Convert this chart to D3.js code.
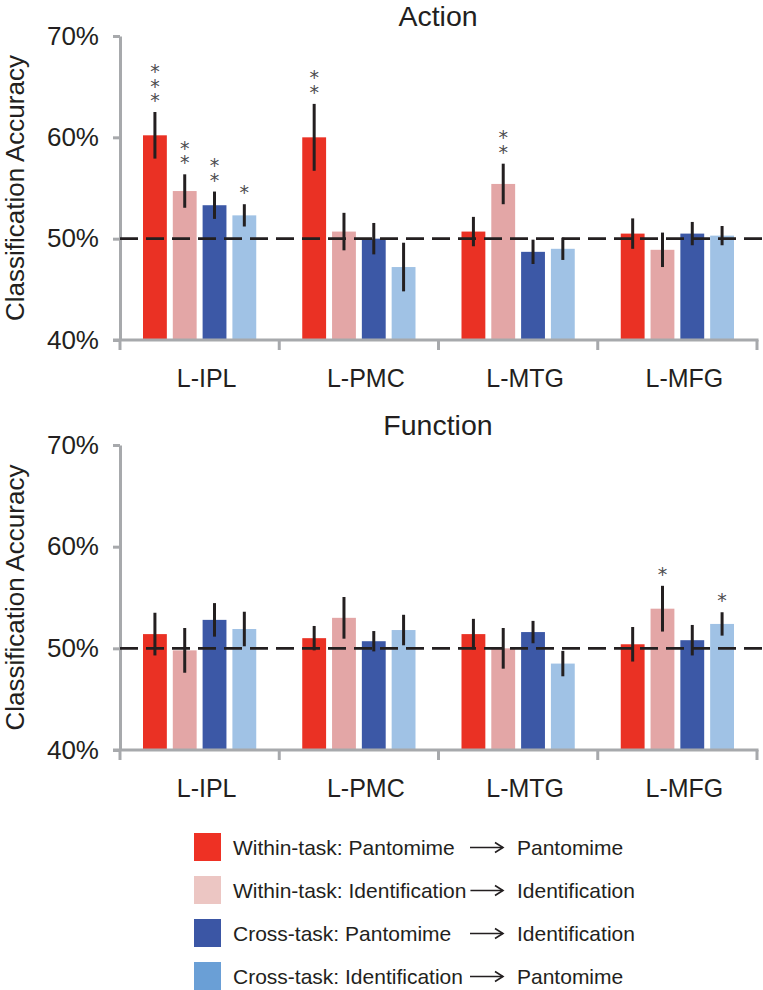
<!DOCTYPE html>
<html>
<head>
<meta charset="utf-8">
<script src="https://cdn.jsdelivr.net/npm/d3@7"></script>
<style>
body{margin:0;background:#fff;}
.fonts{font-family:"Liberation Sans",Arial,sans-serif;fill:#231f20;}
</style>
</head>
<body>
<div id="viz"></div>
<script>
// data
var regions=["L-IPL","L-PMC","L-MTG","L-MFG"];
var series=["PP","II","PI","IP"];
var yTicks=[40,50,60,70];
var chance=50;

var actionMeans=[[60.2,54.7,53.3,52.3],[60.0,50.7,50.0,47.2],[50.7,55.4,48.7,49.0],[50.5,48.9,50.5,50.3]];
var actionErr=[[2.3,1.65,1.35,1.1],[3.3,1.85,1.55,2.4],[1.45,2.0,1.2,1.1],[1.5,1.7,1.15,0.95]];
var actionStars=[[3,2,2,1],[2,0,0,0],[0,2,0,0],[0,0,0,0]];

var functionMeans=[[51.4,49.8,52.8,51.9],[51.0,53.0,50.7,51.8],[51.4,50.0,51.6,48.5],[50.4,53.9,50.8,52.4]];
var functionErr=[[2.1,2.2,1.65,1.7],[1.2,2.05,1.0,1.5],[1.5,2.0,1.1,1.25],[1.7,2.25,1.5,1.15]];
var functionStars=[[0,0,0,0],[0,0,0,0],[0,0,0,0],[0,1,0,1]];

var legendTask=["Within-task:","Within-task:","Cross-task:","Cross-task:"];
var legendFrom=["Pantomime","Identification","Pantomime","Identification"];
var legendTo=["Pantomime","Identification","Identification","Pantomime"];

var barColors=["#ea3124","#e3a6a6","#3c58a6","#a0c2e5"];
var legendColors=["#ee3124","#ecc6c3","#3b56a5","#6a9fd6"];

var width=763, height=990;
var svg=d3.select("#viz").append("svg")
  .attr("width",width)
  .attr("height",height);

var x0=d3.scaleBand().domain(regions).range([120,757]);
var x1=d3.scaleBand().domain(series)
  .range([23,x0.bandwidth()-23])
  .paddingInner(0.2);
var colorScale=d3.scaleOrdinal().domain(series).range(barColors);

function drawPanel(title,means,errs,stars,top,bottom)
{
  var y=d3.scaleLinear().domain([40,70]).range([bottom,top]);
  var g=svg.append("g");

  var rows=[];
  means.forEach(function(m,i){
    m.forEach(function(v,j){
      rows.push({region:regions[i],s:series[j],v:v,e:errs[i][j],n:stars[i][j]});
    });
  });

  g.selectAll("rect.bar")
    .data(rows)
    .enter()
    .append("rect")
    .attr("class","bar")
    .attr("x",function(d){return x0(d.region)+x1(d.s);})
    .attr("y",function(d){return y(d.v);})
    .attr("width",x1.bandwidth())
    .attr("height",function(d){return y(40)-y(d.v);})
    .attr("fill",function(d){return colorScale(d.s);});

  // y axis
  var yAxis=d3.axisLeft(y)
    .tickValues(yTicks)
    .tickSize(7)
    .tickSizeOuter(0)
    .tickPadding(14)
    .tickFormat(function(d){return d+"%";});
  var ya=g.append("g")
    .attr("transform","translate(120,0)")
    .call(yAxis);
  ya.selectAll("path,line").attr("stroke","#a7a9ac").attr("stroke-width",3);
  ya.selectAll("text")
    .attr("class","fonts")
    .style("font-size","26px")
    .attr("fill","#231f20");

  // baseline and category separators
  g.append("line")
    .attr("x1",113).attr("x2",x0.range()[1]+1.5)
    .attr("y1",y(40)).attr("y2",y(40))
    .attr("stroke","#a7a9ac").attr("stroke-width",3);
  var seps=regions.map(function(r){return x0(r);}).concat([x0.range()[1]]);
  g.selectAll("line.sep")
    .data(seps)
    .enter()
    .append("line")
    .attr("class","sep")
    .attr("x1",function(d){return d;}).attr("x2",function(d){return d;})
    .attr("y1",y(40)).attr("y2",y(40)+10)
    .attr("stroke","#a7a9ac").attr("stroke-width",3);

  g.selectAll("text.cat")
    .data(regions)
    .enter()
    .append("text")
    .attr("class","fonts cat")
    .attr("x",function(d){return x0(d)+x0.bandwidth()/2+7;})
    .attr("y",y(40)+47)
    .style("font-size","25px")
    .style("text-anchor","middle")
    .text(function(d){return d;});

  // chance line
  g.append("line")
    .attr("x1",120).attr("x2",width)
    .attr("y1",y(chance)).attr("y2",y(chance))
    .attr("stroke","#231f20")
    .attr("stroke-width",2.6)
    .attr("stroke-dasharray","18,8");

  // error bars
  g.selectAll("line.err")
    .data(rows)
    .enter()
    .append("line")
    .attr("class","err")
    .attr("x1",function(d){return x0(d.region)+x1(d.s)+x1.bandwidth()/2;})
    .attr("x2",function(d){return x0(d.region)+x1(d.s)+x1.bandwidth()/2;})
    .attr("y1",function(d){return y(d.v+d.e);})
    .attr("y2",function(d){return y(d.v-d.e);})
    .attr("stroke","#231f20")
    .attr("stroke-width",3);

  // significance stars, stacked in one text per bar
  var starG=g.selectAll("text.star")
    .data(rows.filter(function(d){return d.n>0;}))
    .enter()
    .append("text")
    .attr("class","star")
    .style("font-family","'DejaVu Sans',sans-serif")
    .style("font-size","19px")
    .style("text-anchor","middle")
    .attr("fill","#4d4d4f");
  starG.each(function(d){
    var cx=x0(d.region)+x1(d.s)+x1.bandwidth()/2;
    var base=y(d.v+d.e)-12+7;
    for(var k=d.n-1;k>=0;k--)
    {
      d3.select(this).append("tspan")
        .attr("x",cx)
        .attr("y",base-k*14.5)
        .text("*");
    }
  });

  svg.append("text")
    .attr("x",438)
    .attr("y",top-10)
    .text(title)
    .attr("class","fonts")
    .style("font-size","28.5px")
    .style("text-anchor","middle");

  svg.append("text")
    .attr("transform","translate(24,"+((top+bottom)/2)+") rotate(-90)")
    .text("Classification Accuracy")
    .attr("class","fonts")
    .style("font-size","26px")
    .style("text-anchor","middle");
}

drawPanel("Action",actionMeans,actionErr,actionStars,36,340);
drawPanel("Function",functionMeans,functionErr,functionStars,445,750);

// legend
var legend=svg.append("g");
series.forEach(function(s,i){
  var ty=833+i*43;
  legend.append("rect")
    .attr("x",194).attr("y",ty)
    .attr("width",27).attr("height",28)
    .attr("fill",legendColors[i]);
  var t=legend.append("text")
    .attr("class","fonts")
    .attr("x",233).attr("y",ty+22)
    .style("font-size","21px")
    .text(legendTask[i]+" "+legendFrom[i]);
  var endX=233+t.node().getComputedTextLength();
  var ax0=Math.max(470,endX+4), ax1=503, ay=ty+14.5;
  legend.append("line")
    .attr("x1",ax0).attr("x2",ax1)
    .attr("y1",ay).attr("y2",ay)
    .attr("stroke","#231f20").attr("stroke-width",1.6);
  legend.append("path")
    .attr("d","M"+(ax1-8)+","+(ay-5)+"L"+ax1+","+ay+"L"+(ax1-8)+","+(ay+5))
    .attr("fill","none")
    .attr("stroke","#231f20").attr("stroke-width",1.6);
  legend.append("text")
    .attr("class","fonts")
    .attr("x",517).attr("y",ty+22)
    .style("font-size","21px")
    .text(legendTo[i]);
});
</script>
</body>
</html>
